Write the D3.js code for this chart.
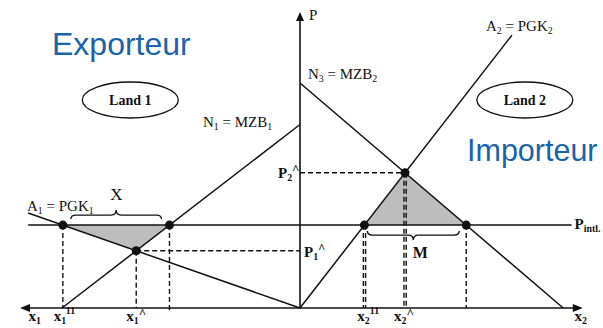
<!DOCTYPE html>
<html><head><meta charset="utf-8">
<script src="https://cdn.jsdelivr.net/npm/d3@7"></script>
<style>body{margin:0;background:#fff}svg{display:block}.sf{font-family:"Liberation Serif","DejaVu Serif",serif}</style>
</head><body>
<script>
const W = 603, H = 328;
// ---- data (quantity units on each side, price units on P axis) ----
const priceIntl = 2.8;                       // P intl.
const supply1 = [[0, 0], [9.71, 3.21]];      // A1 = PGK1 (Land 1)
const demand1 = [[8.5, 0], [0, 6.2]];        // N1 = MZB1 (Land 1)
const supply2 = [[0, 0], [7.57, 9.22]];      // A2 = PGK2 (Land 2)
const demand2 = [[0, 7.6], [9.4, 0]];        // N3 = MZB2 (Land 2)
const pIntlExtent = [9.71, 9.7];             // extent of P intl. line (left, right)
const titles = ["Exporteur", "Importeur"];
const countries = ["Land 1", "Land 2"];

const svg = d3.select("body").append("svg").attr("width", W).attr("height", H);
const xL = d3.scaleLinear().domain([0, 10]).range([300, 20]);
const xR = d3.scaleLinear().domain([0, 10]).range([300, 580]);
const y = d3.scaleLinear().domain([0, 10]).range([308, 12]);

function qAt(seg, p) { const [[q0, p0], [q1, p1]] = seg; return q0 + (p - p0) * (q1 - q0) / (p1 - p0); }
function intersect(a, b) {
  const [[x1, y1], [x2, y2]] = a, [[x3, y3], [x4, y4]] = b;
  const d = (x1 - x2) * (y3 - y4) - (y1 - y2) * (x3 - x4);
  const t = ((x1 - x3) * (y3 - y4) - (y1 - y3) * (x3 - x4)) / d;
  return [x1 + t * (x2 - x1), y1 + t * (y2 - y1)];
}
const e1s = qAt(supply1, priceIntl), e1d = qAt(demand1, priceIntl), a1 = intersect(supply1, demand1);
const e2s = qAt(supply2, priceIntl), e2d = qAt(demand2, priceIntl), a2 = intersect(supply2, demand2);
const yI = y(priceIntl);

const ink = "#111";
// shaded triangles
svg.append("polygon").attr("points", [[xL(e1s), yI], [xL(e1d), yI], [xL(a1[0]), y(a1[1])]].join(" "))
  .attr("fill", "#bdbdbd");
svg.append("polygon").attr("points", [[xR(a2[0]), y(a2[1])], [xR(e2s), yI], [xR(e2d), yI]].join(" "))
  .attr("fill", "#bdbdbd");

// dashed guides
const dash = (x1, y1, x2, y2) => svg.append("line").attr("x1", x1).attr("y1", y1).attr("x2", x2).attr("y2", y2)
  .attr("stroke", ink).attr("stroke-width", 1.4).attr("stroke-dasharray", "5,3");
dash(xL(e1s), yI, xL(e1s), y(0));
dash(xL(a1[0]), y(a1[1]), xL(a1[0]), y(0));
dash(xL(e1d), yI, xL(e1d), y(0) + 3);
dash(xL(a1[0]), y(a1[1]), xL(0), y(a1[1]));
dash(xR(e2s) - 1, yI, xR(e2s) - 1, y(0)); dash(xR(e2s) + 1.2, yI, xR(e2s) + 1.2, y(0));
dash(xR(a2[0]) - 1, y(a2[1]), xR(a2[0]) - 1, y(0)); dash(xR(a2[0]) + 1.2, y(a2[1]), xR(a2[0]) + 1.2, y(0));
dash(xR(e2d), yI, xR(e2d), y(0));
dash(xR(0), y(a2[1]), xR(a2[0]), y(a2[1]));

// solid curves
const seg = (s, xs) => svg.append("line").attr("x1", xs(s[0][0])).attr("y1", y(s[0][1]))
  .attr("x2", xs(s[1][0])).attr("y2", y(s[1][1])).attr("stroke", ink).attr("stroke-width", 1.5);
seg(supply1, xL); seg(demand1, xL); seg(supply2, xR); seg(demand2, xR);
// P intl line
svg.append("line").attr("x1", xL(pIntlExtent[0])).attr("x2", xR(pIntlExtent[1])).attr("y1", yI).attr("y2", yI)
  .attr("stroke", ink).attr("stroke-width", 1.5);

// axes
svg.append("line").attr("x1", xR(0)).attr("x2", xR(0)).attr("y1", y(0)).attr("y2", y(9.8)).attr("stroke", ink).attr("stroke-width", 1.6);
svg.append("line").attr("x1", xL(9.8)).attr("x2", xR(9.9)).attr("y1", y(0)).attr("y2", y(0)).attr("stroke", ink).attr("stroke-width", 1.6);
const arrow = (pts) => svg.append("polygon").attr("points", pts.join(" ")).attr("fill", ink);
arrow([[xR(0), y(10)], [xR(0) - 4, y(10) + 9], [xR(0) + 4, y(10) + 9]]);
arrow([[xL(10), y(0)], [xL(10) + 10, y(0) - 4], [xL(10) + 10, y(0) + 4]]);
arrow([[xR(10.1), y(0)], [xR(10.1) - 10, y(0) - 4], [xR(10.1) - 10, y(0) + 4]]);

// dots
[[xL(e1s), yI], [xL(e1d), yI], [xL(a1[0]), y(a1[1])], [xR(e2s), yI], [xR(e2d), yI], [xR(a2[0]), y(a2[1])]]
  .forEach(p => svg.append("circle").attr("cx", p[0]).attr("cy", p[1]).attr("r", 4.5).attr("fill", ink));

// braces
function brace(x0, x1, yy, dir) {
  const m = (x0 + x1) / 2;
  return `M${x0},${yy - dir * 4} Q${x0},${yy} ${x0 + 5},${yy} L${m - 5},${yy} Q${m},${yy} ${m},${yy + dir * 5}` +
    ` Q${m},${yy} ${m + 5},${yy} L${x1 - 5},${yy} Q${x1},${yy} ${x1},${yy - dir * 4}`;
}
svg.append("path").attr("d", brace(xL(e1s) + 8, xL(e1d) - 8, yI - 10, -1)).attr("fill", "none").attr("stroke", ink).attr("stroke-width", 1.4);
svg.append("path").attr("d", brace(xR(e2s) + 3, xR(e2d) - 7, yI + 10, 1)).attr("fill", "none").attr("stroke", ink).attr("stroke-width", 1.4);

// text helper: parts [text, kind] kind: n / sub / sup
function label(x, yy, parts, size, anchor, weight) {
  const t = svg.append("text").attr("class", "sf").attr("x", x).attr("y", yy)
    .attr("font-size", size).attr("fill", ink).attr("text-anchor", anchor || "start").attr("font-weight", weight || "normal");
  let off = 0;
  parts.forEach(([s, k]) => {
    const target = k === "sub" ? size * 0.22 : k === "sup" ? -size * (s === "^" ? 0.3 : 0.45) : 0;
    const fs = k === "n" ? size : (s === "^" ? size * 0.85 : size * 0.66);
    t.append("tspan").attr("dy", target - off).attr("font-size", fs).text(s);
    off = target;
  });
  return t;
}
// blue titles
svg.append("text").attr("x", 52).attr("y", 55).style("font-family", "Arial, 'Liberation Sans', sans-serif")
  .attr("font-size", 32).attr("fill", "#1a63a8").text(titles[0]);
svg.append("text").attr("x", 467).attr("y", 161).style("font-family", "Arial, 'Liberation Sans', sans-serif")
  .attr("font-size", 30.5).attr("fill", "#1a63a8").text(titles[1]);

// country ellipses
[[xL(6.06), countries[0]], [xR(8.03), countries[1]]].forEach(([cx, txt]) => {
  svg.append("ellipse").attr("cx", cx).attr("cy", 100).attr("rx", 48).attr("ry", 18).attr("fill", "none").attr("stroke", ink).attr("stroke-width", 1.3);
  svg.append("text").attr("class", "sf").attr("x", cx).attr("y", 105).attr("text-anchor", "middle")
    .attr("font-weight", "bold").attr("font-size", 14).attr("fill", ink).text(txt);
});

// curve labels
label(203, 127, [["N", "n"], ["1", "sub"], [" = MZB", "n"], ["1", "sub"]], 15);
label(308, 79, [["N", "n"], ["3", "sub"], [" = MZB", "n"], ["2", "sub"]], 15);
label(486, 31, [["A", "n"], ["2", "sub"], [" = PGK", "n"], ["2", "sub"]], 15);
label(27, 211, [["A", "n"], ["1", "sub"], [" = PGK", "n"], ["1", "sub"]], 15);
label(xR(0) + 9, 20, [["P", "n"]], 15);
label(xR(pIntlExtent[1]) + 3, yI + 4, [["P", "n"], ["intl.", "sub"]], 15, "start", "bold");
label((xL(e1s) + 8 + xL(e1d) - 8) / 2 - 6, yI - 25, [["X", "n"]], 17);
label((xR(e2s) + 3 + xR(e2d) - 7) / 2 + 7, yI + 33, [["M", "n"]], 16, "middle", "bold");
label(xR(0) - 22, y(a2[1]) + 5, [["P", "n"], ["2", "sub"], ["^", "sup"]], 15, "start", "bold");
label(xR(0) + 4, y(a1[1]) + 6, [["P", "n"], ["1", "sub"], ["^", "sup"]], 15, "start", "bold");

// quantity axis labels
const yB = 321;
label(xL(9.7), yB, [["x", "n"], ["1", "sub"]], 15, "start", "bold");
label(xL(e1s) - 9, yB, [["x", "n"], ["1", "sub"], ["11", "sup"]], 15, "start", "bold");
label(xL(a1[0]) - 10, yB, [["x", "n"], ["1", "sub"], ["^", "sup"]], 15, "start", "bold");
label(xR(e2s) - 7, yB, [["x", "n"], ["2", "sub"], ["11", "sup"]], 15, "start", "bold");
label(xR(a2[0]) - 11, yB, [["x", "n"], ["2", "sub"], ["^", "sup"]], 15, "start", "bold");
label(xR(9.8), yB, [["x", "n"], ["2", "sub"]], 15, "start", "bold");
</script>
</body></html>
